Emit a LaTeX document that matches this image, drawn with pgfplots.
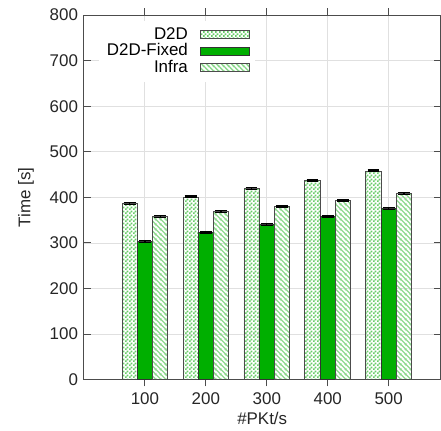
\documentclass[border=0pt]{standalone}
\usepackage{pgfplots}
\pgfplotsset{compat=1.18}
\usepackage{fontspec}
\setmainfont{Liberation Sans}
\usetikzlibrary{patterns}
\definecolor{dgreen}{RGB}{0,175,0}
\definecolor{lgreen}{RGB}{105,205,105}
\pgfdeclarepatternformonly{checker}{\pgfqpoint{0pt}{0pt}}{\pgfqpoint{2.4pt}{2.4pt}}{\pgfqpoint{2.4pt}{2.4pt}}{%
  \pgfpathrectangle{\pgfqpoint{0pt}{0pt}}{\pgfqpoint{1.2pt}{1.2pt}}%
  \pgfpathrectangle{\pgfqpoint{1.2pt}{1.2pt}}{\pgfqpoint{1.2pt}{1.2pt}}%
  \pgfusepath{fill}}
\pgfdeclarepatternformonly{stripes}{\pgfqpoint{0pt}{0pt}}{\pgfqpoint{2.8pt}{2.8pt}}{\pgfqpoint{2.8pt}{2.8pt}}{%
  \pgfsetlinewidth{0.8pt}%
  \pgfpathmoveto{\pgfqpoint{-0.8pt}{3.6pt}}\pgfpathlineto{\pgfqpoint{3.6pt}{-0.8pt}}%
  \pgfpathmoveto{\pgfqpoint{-0.8pt}{0.8pt}}\pgfpathlineto{\pgfqpoint{0.8pt}{-0.8pt}}%
  \pgfpathmoveto{\pgfqpoint{2pt}{3.6pt}}\pgfpathlineto{\pgfqpoint{3.6pt}{2pt}}%
  \pgfusepath{stroke}}
\pgfplotstableread{
x d2d d2de fix fixe infra infrae
1 386 2 303 2 358 2
2 401 2 324 2 369 2
3 419 2 341 2 381 2
4 438 2 359 2 394 2
5 458 2 376 2 409 2
}\data
\begin{document}
\begin{tikzpicture}
\begin{axis}[
  scale only axis,
  width=210.6pt, height=215.4pt,
  xmin=0, xmax=5.85, ymin=0, ymax=800,
  ytick={0,100,...,800},
  xtick={1,2,3,4,5},
  xticklabels={100,200,300,400,500},
  tick align=inside,
  major tick length=4pt,
  tick style={black!70, line width=0.6pt},
  axis line style={black!70, line width=0.6pt},
  xmajorgrids, ymajorgrids,
  grid style={black!12, line width=0.5pt},
  /pgf/number format/assume math mode=true,
  tick label style={black!85},
  label style={black!85},
  xlabel={\#PKt/s},
  ylabel={Time [s]},
  ylabel style={at={(axis description cs:0,0.5)}, anchor=south, xshift=0pt, yshift=26pt},
  xlabel style={yshift=2pt},
  ybar, bar width=0.25,
  legend cell align=right,
  legend plot pos=right,
  legend style={at={(0.48,0.985)}, anchor=north east, draw=none, fill=white,
    row sep=-3pt, font=\normalsize},
  legend image code/.code={\path (0pt,0pt); \draw[#1] (5pt,-2.4pt) rectangle (34pt,2.4pt);},
  error bars/error bar style={black, line width=0.7pt},
  error bars/error mark options={black, line width=0.7pt, mark size=3.5pt, rotate=90},
]
\addplot[draw=black!70, line width=0.5pt, pattern=checker, pattern color=lgreen, bar shift=-0.25,
  error bars/.cd, y dir=both, y explicit]
  table[x=x, y=d2d, y error=d2de] {\data};
\addlegendentry{D2D}
\addplot[draw=black!80, line width=0.5pt, fill=dgreen, bar shift=0,
  error bars/.cd, y dir=both, y explicit]
  table[x=x, y=fix, y error=fixe] {\data};
\addlegendentry{D2D-Fixed}
\addplot[draw=black!70, line width=0.5pt, pattern=stripes, pattern color=lgreen!75, bar shift=0.25,
  error bars/.cd, y dir=both, y explicit]
  table[x=x, y=infra, y error=infrae] {\data};
\addlegendentry{Infra}
\end{axis}
\path (current axis.south west) ++(-49.6pt,-30pt) coordinate (bl);
\path (current axis.north east) ++(0pt,8.9pt) coordinate (tr);
\path (bl) rectangle (tr);
\end{tikzpicture}
\end{document}
